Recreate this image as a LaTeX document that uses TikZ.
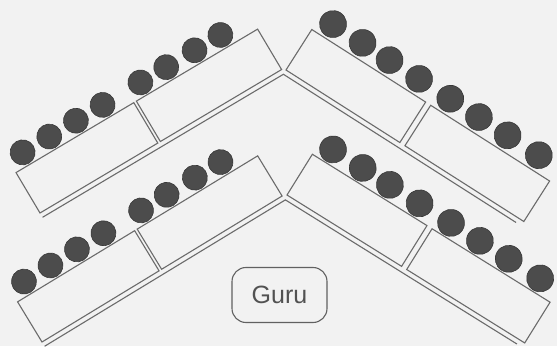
\documentclass[tikz,border=0pt]{standalone}
\usepackage{fontspec}
\setmainfont{Liberation Sans}
\begin{document}
\begin{tikzpicture}[x=1pt,y=1pt,
  bench/.style={draw=black!58, line width=1.1pt, line join=miter},
  rail/.style={draw=black!58, line width=1.1pt},
  seat/.style={fill=black!70, draw=black!78, line width=0.6pt},
  guru/.style={draw=black!62, line width=1.1pt, rounded corners=14pt,
    minimum width=95pt, minimum height=55pt, text=black!68,
    font=\fontsize{25}{28}\selectfont, inner sep=0pt}]
% paper
\fill[black!5] (0,0) rectangle (557,346);
\useasboundingbox (0,0) rectangle (557,346);

% ---- back row, left wing ----
\begin{scope}[shift={(40,133)}, rotate=30.7]
  \draw[bench] (0,0) rectangle (137,47);
  \draw[bench] (140,0) rectangle (281,47);
  \foreach \a in {16,47,78,109,153,183,216,246}
    \draw[seat] (\a,61) circle (12.5);
  \coordinate (bl1) at (0,-5);
  \coordinate (bl2) at (281,-5);
\end{scope}

% ---- back row, right wing ----
\begin{scope}[shift={(286,276)}, rotate=-32.5]
  \draw[bench] (0,0) rectangle (135,48);
  \draw[bench] (141,0) rectangle (282,48);
  \foreach \a in {15,50,82,117,154,188,222,259}
    \draw[seat] (\a,64) circle (13.5);
  \coordinate (br1) at (0,-5);
  \coordinate (br2) at (276,-5);
\end{scope}

% ---- front row, left wing ----
\begin{scope}[shift={(42,4)}, rotate=31.3]
  \draw[bench] (0,0) rectangle (137,47);
  \draw[bench] (140,0) rectangle (281,47);
  \foreach \a in {16,47,78,109,153,183,216,246}
    \draw[seat] (\a,61) circle (12.5);
  \coordinate (fl1) at (0,-5);
  \coordinate (fl2) at (281,-5);
\end{scope}

% ---- front row, right wing ----
\begin{scope}[shift={(287,151)}, rotate=-31.9]
  \draw[bench] (0,0) rectangle (135,48);
  \draw[bench] (141,0) rectangle (280,48);
  \foreach \a in {15,50,82,117,154,188,222,259}
    \draw[seat] (\a,63) circle (13.5);
  \coordinate (fr1) at (0,-5);
  \coordinate (fr2) at (274,-5);
\end{scope}

% platform edges under each row, meeting at the middle
\draw[rail] (bl1) -- (intersection of bl1--bl2 and br1--br2) -- (br2);
\draw[rail] (fl1) -- (intersection of fl1--fl2 and fr1--fr2) -- (fr2);

% teacher's desk
\node[guru] (guru) at (279.5,51) {Guru};
\end{tikzpicture}
\end{document}
